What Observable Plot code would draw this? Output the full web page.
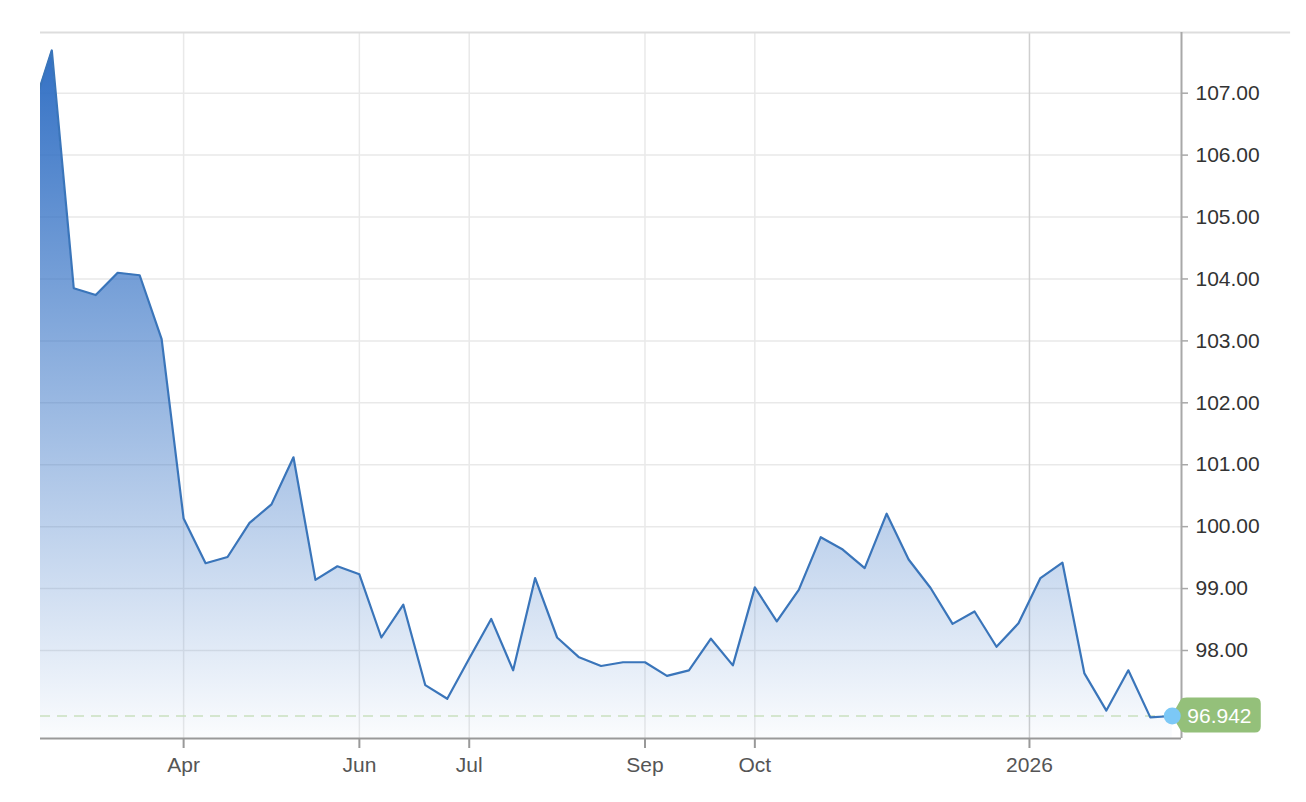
<!DOCTYPE html>
<html>
<head>
<meta charset="utf-8">
<script src="https://cdn.jsdelivr.net/npm/d3@7"></script>
<script src="https://cdn.jsdelivr.net/npm/@observablehq/plot@0.6"></script>
<style>
  html, body { margin: 0; padding: 0; background: #fff; }
  #chart { width: 1306px; height: 802px; }
</style>
</head>
<body>
<div id="chart"></div>
<script>
// Weekly index values (point 0 lies just left of the visible window)
const weekIndex = d3.range(0, 53);
const values = [106.59, 107.69, 103.85, 103.74, 104.10, 104.06, 103.03, 100.13, 99.41, 99.51,
  100.06, 100.36, 101.12, 99.14, 99.36, 99.23, 98.21, 98.74, 97.44, 97.22,
  97.87, 98.51, 97.68, 99.17, 98.21, 97.89, 97.75, 97.81, 97.81, 97.59,
  97.68, 98.19, 97.76, 99.02, 98.47, 98.98, 99.83, 99.63, 99.33, 100.21,
  99.47, 99.01, 98.43, 98.63, 98.06, 98.44, 99.17, 99.42, 97.63, 97.03,
  97.68, 96.92, 96.942];

// X-axis ticks (positions on the weekly index) and their labels
const tickIndex = [7, 15, 20, 28, 33, 45.5];
const tickLabels = ["Apr", "Jun", "Jul", "Sep", "Oct", "2026"];
const yearTick = [45.5];

// Y-axis ticks
const yTicks = [98, 99, 100, 101, 102, 103, 104, 105, 106, 107];

const xDomain = [0.486, 52.42];
const yDomain = [96.579, 107.98];
const frameRightEdge = 57.385;

const data = weekIndex.map((i) => ({i, v: values[i]}));
const last = data[data.length - 1];
const labelMap = new Map(tickIndex.map((t, k) => [t, tickLabels[k]]));

const chart = Plot.plot({
  width: 1306,
  height: 802,
  marginLeft: 40,
  marginRight: 125,
  marginTop: 32,
  marginBottom: 64,
  style: {fontFamily: "'Liberation Sans', Arial, Helvetica, sans-serif", fontSize: "21px", background: "#fff", overflow: "visible"},
  x: {type: "linear", domain: xDomain},
  y: {domain: yDomain},
  marks: [
    Plot.gridY({ticks: yTicks, stroke: "#e9e9e9", strokeOpacity: 1, strokeWidth: 1.5}),
    Plot.gridX({ticks: tickIndex.filter(t => !yearTick.includes(t)), stroke: "#e9e9e9", strokeOpacity: 1, strokeWidth: 1.5}),
    Plot.gridX({ticks: yearTick, stroke: "#cfcfcf", strokeOpacity: 1, strokeWidth: 1.5}),
    Plot.areaY(data, {x: "i", y1: yDomain[0], y2: "v", fill: "url(#dxyGrad)", clip: true}),
    Plot.ruleY([last.v], {stroke: "#c9e0bf", strokeWidth: 1.5, strokeDasharray: "10,7"}),
    Plot.lineY(data, {x: "i", y: "v", stroke: "#3a75ba", strokeWidth: 2.2, clip: true}),
    Plot.ruleY([yDomain[1]], {x1: xDomain[0], x2: frameRightEdge, stroke: "#dddddd", strokeWidth: 2, clip: false}),
    Plot.ruleY([yDomain[0]], {stroke: "#999999", strokeWidth: 2}),
    Plot.ruleX([xDomain[1]], {stroke: "#a8a8a8", strokeWidth: 2}),
    Plot.axisX({ticks: tickIndex, tickFormat: (d) => labelMap.get(d), tickSize: 10, tickPadding: 9,
      stroke: "#999999", strokeWidth: 2, fill: "#555", label: null}),
    Plot.axisY({anchor: "right", ticks: yTicks, tickFormat: (d) => d.toFixed(2), tickSize: 6, tickPadding: 8,
      stroke: "#a8a8a8", strokeWidth: 1.5, fill: "#333", label: null}),
    Plot.dot([last], {x: "i", y: "v", r: 8.5, fill: "#7cc8f6", stroke: "none"}),
    Plot.text([last], {x: "i", y: "v", text: (d) => d.v.toFixed(3), dx: 15, textAnchor: "start",
      fill: "#ffffff", fontSize: 21})
  ]
});

document.getElementById("chart").appendChild(chart);

// gradient for the area
const sx = chart.scale("x"), sy = chart.scale("y");
const topY = sy.apply(d3.max(values.slice(1)));
const botY = sy.apply(yDomain[0]);
const svgSel = d3.select(chart);
const defs = svgSel.insert("defs", ":first-child");
const grad = defs.append("linearGradient")
  .attr("id", "dxyGrad").attr("gradientUnits", "userSpaceOnUse")
  .attr("x1", 0).attr("x2", 0).attr("y1", topY).attr("y2", botY);
grad.append("stop").attr("offset", "0%").attr("stop-color", "#3270c4").attr("stop-opacity", 1);
grad.append("stop").attr("offset", "100%").attr("stop-color", "#3270c4").attr("stop-opacity", 0.02);

// last-value label background, placed beneath the dot
const px = sx.apply(last.i), py = sy.apply(last.v);
const L = px + 9, R = px + 89, T = py - 18, B = py + 17, r = 6;
const dotCircle = chart.querySelector("circle");
const dotGroup = dotCircle ? dotCircle.closest("g") : null;
const ns = "http://www.w3.org/2000/svg";
const path = document.createElementNS(ns, "path");
path.setAttribute("d", `M${px},${py} L${L},${T + 2} Q${L + 1},${T} ${L + r},${T} H${R - r} Q${R},${T} ${R},${T + r} V${B - r} Q${R},${B} ${R - r},${B} H${L + r} Q${L + 1},${B} ${L},${B - 2} Z`);
path.setAttribute("fill", "#94c07a");
if (dotGroup) chart.insertBefore(path, dotGroup); else chart.appendChild(path);
</script>
</body>
</html>
